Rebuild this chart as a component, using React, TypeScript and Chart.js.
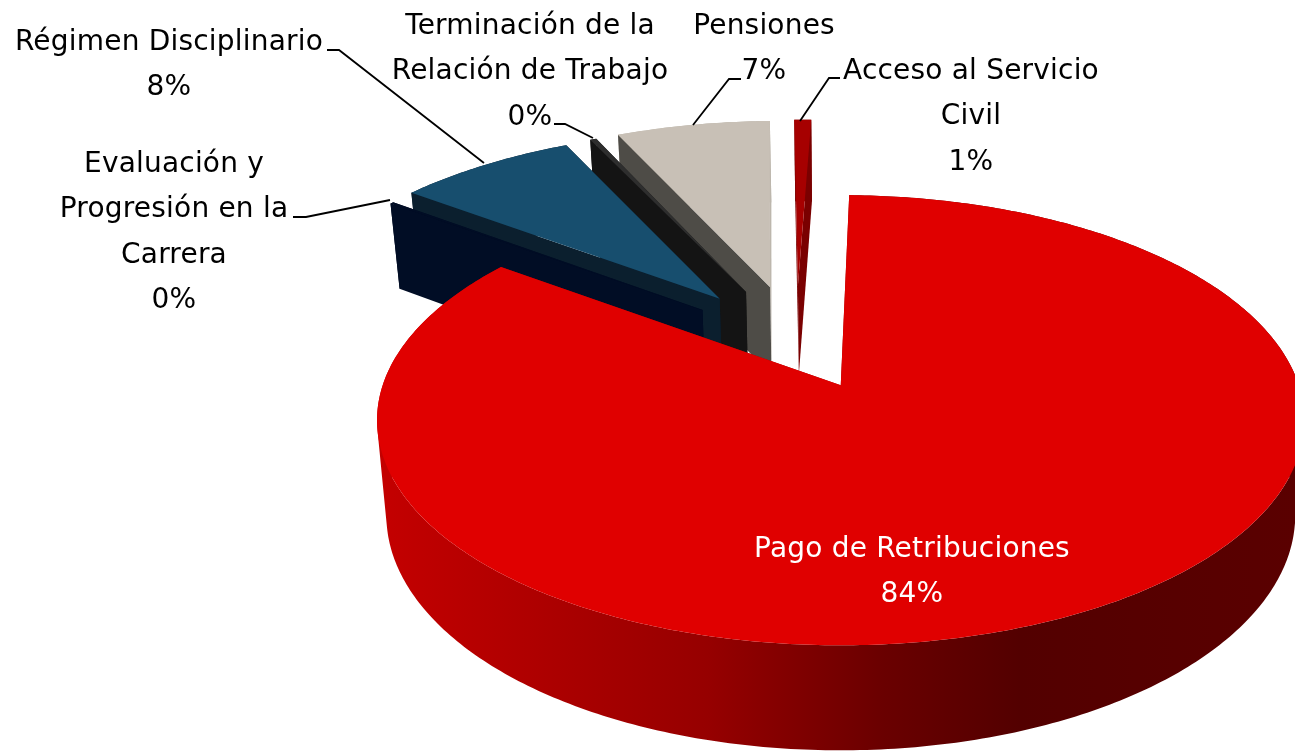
import React, { useEffect, useRef } from "react";
import { Chart, registerables } from "chart.js";

Chart.register(...registerables);

const categories = ["Pago de Retribuciones", "Evaluación y Progresión en la Carrera", "Régimen Disciplinario", "Terminación de la Relación de Trabajo", "Pensiones", "Acceso al Servicio Civil"];
const shares = [84.65, 0.15, 7.6, 0.27, 6.6, 0.73];
const percentLabels = ["84%", "0%", "8%", "0%", "7%", "1%"];
const explode = [74, 89, 93, 92, 94, 94];
const faceColors = ["#e00000", "#010d25", "#174e6e", "#2e2e2e", "#c8c0b6", "#a60000"];
const wallColors = ["#a00000", "#010d25", "#0b1f2e", "#141414", "#4e4c47", "#7a0000"];
const sideColors = ["#a00000", "#010d25", "#0b1f2e", "#141414", "#bdb7ad", "#7a0000"];
const paintOrder = [5, 4, 3, 2, 1, 0];

type Lbl = { lines: string[]; pct: number; x: number; y: number; color: string };
const labelLayout: Lbl[] = [
  { lines: ["Pago de Retribuciones"], pct: 0, x: 912, y: 550, color: "#ffffff" },
  { lines: ["Evaluación y", "Progresión en la", "Carrera"], pct: 1, x: 174, y: 165, color: "#000000" },
  { lines: ["Régimen Disciplinario"], pct: 2, x: 169, y: 43, color: "#000000" },
  { lines: ["Terminación de la", "Relación de Trabajo"], pct: 3, x: 530, y: 27, color: "#000000" },
  { lines: ["Pensiones"], pct: 4, x: 764, y: 27, color: "#000000" },
  { lines: ["Acceso al Servicio", "Civil"], pct: 5, x: 971, y: 72, color: "#000000" },
];
const leaders = [
  [[293, 217], [306, 217], [390, 200]],
  [[327, 50], [339, 50], [484, 163]],
  [[554, 124], [565, 124], [593, 138]],
  [[741, 79], [729, 79], [693, 125]],
  [[840, 78], [829, 78], [800, 121]],
];

// projection of the disc (radius 1) onto the page
const K = 0.1556, A = 219.6, B = 458, OX = 842, OY = 385;
const CU = -0.103, CV = 0.201;
function project(u: number, v: number, low: boolean): [number, number] {
  const uu = u + CU, vv = v + CV;
  const w = 1 + K * vv;
  const x = OX + (B * uu) / w;
  const y = OY - (A * vv) / w;
  if (!low) return [x, y];
  return [845 + (x - 845) * 0.98, y * 1.045 + 76];
}

const pie3d = {
  id: "pie3d",
  beforeDatasetsDraw(chart: any) {
    const ctx: CanvasRenderingContext2D = chart.ctx;
    const arcs = chart.getDatasetMeta(0).data;
    const wallGrad = ctx.createLinearGradient(378, 0, 1295, 0);
    wallGrad.addColorStop(0, "#c40000");
    wallGrad.addColorStop(0.36, "#960000");
    wallGrad.addColorStop(0.55, "#6a0000");
    wallGrad.addColorStop(0.7, "#530000");
    wallGrad.addColorStop(1, "#5a0000");

    const fillPoly = (pts: [number, number][], color: any) => {
      ctx.beginPath();
      pts.forEach((p, i) => (i ? ctx.lineTo(p[0], p[1]) : ctx.moveTo(p[0], p[1])));
      ctx.closePath();
      ctx.fillStyle = color;
      ctx.fill();
    };

    for (const i of paintOrder) {
      const el = arcs[i];
      const R = el.outerRadius;
      const mid = (el.startAngle + el.endAngle) / 2;
      const off = el.options.offset / R;
      const ax = Math.cos(mid) * off;
      const ay = -Math.sin(mid) * off;
      const at = (a: number): [number, number] => [ax + Math.cos(a), ay - Math.sin(a)];
      const steps = Math.max(2, Math.ceil((el.endAngle - el.startAngle) / (Math.PI / 240)));
      const rim: [number, number][] = [];
      for (let s = 0; s <= steps; s++) rim.push(at(el.startAngle + ((el.endAngle - el.startAngle) * s) / steps));

      const apexT = project(ax, ay, false);
      const apexB = project(ax, ay, true);
      const first = rim[0];
      const last = rim[rim.length - 1];

      // outer wall: one path of like-wound quads, so the union fills with no seams
      ctx.beginPath();
      for (let s = 0; s < steps; s++) {
        let q = [
          project(rim[s][0], rim[s][1], false),
          project(rim[s + 1][0], rim[s + 1][1], false),
          project(rim[s + 1][0], rim[s + 1][1], true),
          project(rim[s][0], rim[s][1], true),
        ];
        let area = 0;
        q.forEach((p, k) => {
          const n = q[(k + 1) % 4];
          area += p[0] * n[1] - n[0] * p[1];
        });
        if (area < 0) q = q.reverse();
        q.forEach((p, k) => (k ? ctx.lineTo(p[0], p[1]) : ctx.moveTo(p[0], p[1])));
        ctx.closePath();
      }
      ctx.fillStyle = i === 0 ? wallGrad : sideColors[i];
      ctx.fill();

      // radial walls: clockwise end (right side) first, clockwise start (left side) over it
      fillPoly([apexT, project(last[0], last[1], false), project(last[0], last[1], true), apexB], sideColors[i]);
      fillPoly([apexT, project(first[0], first[1], false), project(first[0], first[1], true), apexB], wallColors[i]);
      // top face
      fillPoly([apexT, ...rim.map((p) => project(p[0], p[1], false))], faceColors[i]);
    }

    // leader lines
    ctx.strokeStyle = "#000000";
    ctx.lineWidth = 1.8;
    for (const l of leaders) {
      ctx.beginPath();
      l.forEach((p, i) => (i ? ctx.lineTo(p[0], p[1]) : ctx.moveTo(p[0], p[1])));
      ctx.stroke();
    }

    // data labels
    ctx.font = '28px "DejaVu Sans"';
    (ctx as any).letterSpacing = "0.2px";
    ctx.textAlign = "center";
    ctx.textBaseline = "middle";
    for (const l of labelLayout) {
      ctx.fillStyle = l.color;
      const rows = [...l.lines, percentLabels[l.pct]];
      rows.forEach((t, r) => ctx.fillText(t, l.x, l.y + r * 45.2));
    }
    return false;
  },
};

export default function App() {
  const ref = useRef<HTMLCanvasElement>(null);
  useEffect(() => {
    document.body.style.margin = "0";
    const chart = new Chart(ref.current as HTMLCanvasElement, {
      type: "pie",
      data: {
        labels: categories,
        datasets: [{ data: shares, backgroundColor: faceColors, offset: explode, borderWidth: 0 } as any],
      },
      options: {
        animation: false,
        responsive: false,
        rotation: 1.2,
        layout: { padding: 0 },
        plugins: { legend: { display: false }, tooltip: { enabled: false } },
      },
      plugins: [pie3d],
    } as any);
    return () => chart.destroy();
  }, []);
  return <canvas ref={ref} width={1295} height={751} style={{ display: "block" }} />;
}
